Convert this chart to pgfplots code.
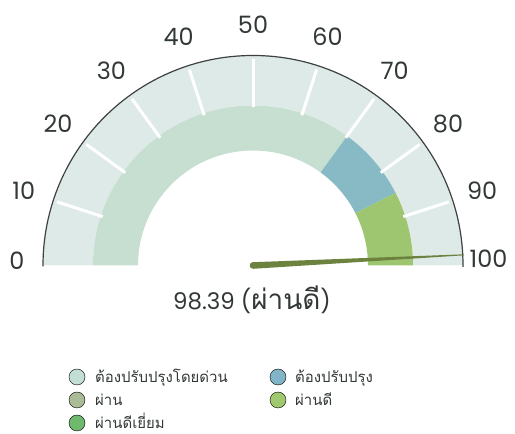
\documentclass[border=0pt]{standalone}
\usepackage{pgfplots}
\pgfplotsset{compat=1.18}
\usepackage{fontspec}
\setmainfont{Poppins}
\newfontfamily\thai[Script=Thai]{Loma}
\definecolor{ring}{RGB}{222,234,232}
\definecolor{bandA}{RGB}{199,223,209}
\definecolor{bandB}{RGB}{135,186,196}
\definecolor{bandC}{RGB}{158,198,112}
\definecolor{needle}{RGB}{108,130,62}
\definecolor{outline}{RGB}{60,65,65}
\definecolor{txt}{RGB}{50,55,55}
\definecolor{legA}{RGB}{195,222,212}
\definecolor{legB}{RGB}{170,188,150}
\definecolor{legC}{RGB}{110,185,110}
\definecolor{legD}{RGB}{130,180,200}
\definecolor{legE}{RGB}{160,200,110}
\def\gval{98.39}
\pgfmathsetmacro\gang{180-1.8*\gval}
\begin{document}
\begin{tikzpicture}
\begin{axis}[x=1bp,y=1bp,xmin=-253,xmax=262,ymin=-168.5,ymax=265.5,hide axis,clip=false]
\path (axis cs:-253,-168.5) rectangle (axis cs:262,265.5);
% outer ring
\fill[ring] (axis cs:210,0) arc[start angle=0,end angle=180,radius=210bp] -- (axis cs:-160,0) arc[start angle=180,end angle=0,radius=160bp] -- cycle;
% bands: 0-70, 70-85, 85-100
\fill[bandA] (axis cs:-160,0) arc[start angle=180,end angle=54,radius=160bp] -- ([shift={(54:115bp)}]axis cs:0,0) arc[start angle=54,end angle=180,radius=115bp] -- cycle;
\fill[bandB] ([shift={(54:160bp)}]axis cs:0,0) arc[start angle=54,end angle=27,radius=160bp] -- ([shift={(27:115bp)}]axis cs:0,0) arc[start angle=27,end angle=54,radius=115bp] -- cycle;
\fill[bandC] ([shift={(27:160bp)}]axis cs:0,0) arc[start angle=27,end angle=0,radius=160bp] -- (axis cs:115,0) arc[start angle=0,end angle=27,radius=115bp] -- cycle;
% ticks
\pgfplotsinvokeforeach{18,36,54,72,90,108,126,144,162}{
  \draw[white,line width=3bp] ([shift={(#1:158bp)}]axis cs:0,0) -- ([shift={(#1:206bp)}]axis cs:0,0);
}
% outline
\draw[outline,line width=1.2bp] (axis cs:-210,-1) -- (axis cs:-210,0) arc[start angle=180,end angle=0,radius=210bp] -- (axis cs:210,-1.5);
% tick labels
\pgfplotsinvokeforeach{10,20,30,40,50,60,70,80,90}{
  \node[txt,font=\fontsize{24}{26}\selectfont,anchor=center,inner sep=0pt] at ([shift={({180-1.8*#1}:241bp)}]axis cs:0,0) {#1};
}
\node[txt,font=\fontsize{24}{26}\selectfont,anchor=center,inner sep=0pt] at (axis cs:-236,4.5) {0};
\node[txt,font=\fontsize{24}{26}\selectfont,anchor=center,inner sep=0pt] at (axis cs:235.5,7) {100};
% needle
\fill[needle,rotate around={\gang:(axis cs:0,0)}] (axis cs:0,3.3) -- (axis cs:211,0.5) -- (axis cs:211,-0.5) -- (axis cs:0,-3.3) arc[start angle=-90,end angle=-270,radius=3.3bp] -- cycle;
% value
\node[txt,font=\fontsize{23}{26}\selectfont,anchor=base,inner sep=0pt] at (axis cs:-1,-44) {98.39 ({\thai\fontsize{28}{30}\selectfont ผ่านดี})};
% legend markers
\addplot[only marks,mark=*,mark size=8bp,mark options={draw=none,fill=legA}] coordinates {(-176,-111.5)};
\addplot[only marks,mark=*,mark size=8bp,mark options={draw=none,fill=legB}] coordinates {(-176,-134.5)};
\addplot[only marks,mark=*,mark size=8bp,mark options={draw=none,fill=legC}] coordinates {(-176,-157.5)};
\addplot[only marks,mark=*,mark size=8bp,mark options={draw=none,fill=legD}] coordinates {(25,-111.5)};
\addplot[only marks,mark=*,mark size=8bp,mark options={draw=none,fill=legE}] coordinates {(25,-134.5)};
\begin{scope}[every node/.style={txt,font=\thai\fontsize{15}{17}\selectfont,anchor=base west,inner sep=0pt}]
\node at (axis cs:-158,-117) {ต้องปรับปรุงโดยด่วน};
\node at (axis cs:-158,-140) {ผ่าน};
\node at (axis cs:-158,-163) {ผ่านดีเยี่ยม};
\node at (axis cs:42,-117) {ต้องปรับปรุง};
\node at (axis cs:42,-140) {ผ่านดี};
\end{scope}
\end{axis}
\end{tikzpicture}
\end{document}
